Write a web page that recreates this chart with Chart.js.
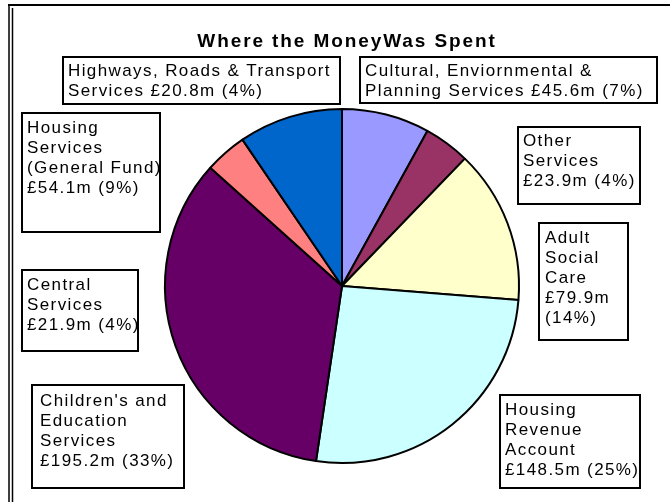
<!DOCTYPE html>
<html>
<head>
<meta charset="utf-8">
<script src="https://cdn.jsdelivr.net/npm/chart.js@4.4.0/dist/chart.umd.min.js"></script>
<style>
    html, body { margin: 0; padding: 0; background: #fff; }
    #wrap { position: relative; width: 670px; height: 502px; }
</style>
</head>
<body>
<div id="wrap"><canvas id="moneyChart" width="670" height="502"></canvas></div>
<script>
// Where the Money Was Spent - pie with boxed callouts
const chartTitle = 'Where the MoneyWas Spent';

const categories = [
    'Cultural, Enviornmental & Planning Services',
    'Other Services',
    'Adult Social Care',
    'Housing Revenue Account',
    "Children's and Education Services",
    'Central Services',
    'Housing Services (General Fund)',
    'Highways, Roads & Transport Services'
];
const amounts = [45.6, 23.9, 79.9, 148.5, 195.2, 21.9, 54.1, 20.8];
const percents = [7, 4, 14, 25, 33, 4, 9, 4];
const sliceColours = ['#9999FF', '#993366', '#FFFFCC', '#CCFFFF', '#660066', '#FF8080', '#0066CC', '#000080'];

// callout text as wrapped in the original; {m} = amount, {p} = percent
const labelLines = [
    ['Cultural, Enviornmental &', 'Planning Services {m} {p}'],
    ['Other', 'Services', '{m} {p}'],
    ['Adult', 'Social', 'Care', '{m}', '{p}'],
    ['Housing', 'Revenue', 'Account', '{m} {p}'],
    ["Children's and", 'Education', 'Services', '{m} {p}'],
    ['Central', 'Services', '{m} {p}'],
    ['Housing', 'Services', '(General Fund)', '{m} {p}'],
    ['Highways, Roads & Transport', 'Services {m} {p}']
];

// the original pie does not draw the Highways slice, only its callout
const hiddenSlices = [7];

// callout boxes: x, y, w, h, text dx, first baseline dy
const boxLayout = [
    [360, 57, 297, 46, 5, 19],
    [518, 127, 122, 77, 5, 19],
    [539, 223, 89, 117, 6, 20],
    [500, 395, 140, 93, 5, 20],
    [32, 385, 152, 103, 8, 21],
    [22, 270, 116, 81, 5, 20],
    [22, 113, 138, 119, 5, 20],
    [63, 57, 277, 47, 5, 19]
];

const FONT = '"Liberation Sans", Arial, sans-serif';

function fillLine(text, i) {
    return text
        .replace('{m}', '\u00a3' + amounts[i].toFixed(1) + 'm')
        .replace('{p}', '(' + percents[i] + '%)');
}

const framePlugin = {
    id: 'frame',
    beforeDraw(chart) {
        const ctx = chart.ctx;
        ctx.save();
        ctx.fillStyle = '#fff';
        ctx.fillRect(0, 0, chart.width, chart.height);
        ctx.strokeStyle = '#000';
        ctx.lineWidth = 2;
        ctx.beginPath();
        ctx.moveTo(8, 5);
        ctx.lineTo(chart.width, 5);
        ctx.stroke();
        ctx.lineWidth = 1.5;
        ctx.beginPath();
        ctx.moveTo(9, 5);
        ctx.lineTo(9, chart.height);
        ctx.moveTo(12.5, 8);
        ctx.lineTo(12.5, chart.height);
        ctx.stroke();
        ctx.restore();
    },
    afterDraw(chart) {
        const ctx = chart.ctx;
        ctx.save();
        ctx.fillStyle = '#000';
        ctx.textBaseline = 'alphabetic';

        ctx.font = 'bold 19px ' + FONT;
        ctx.letterSpacing = '1.9px';
        ctx.textAlign = 'center';
        ctx.fillText(chartTitle, 347, 47);

        ctx.textAlign = 'left';
        ctx.font = '17px ' + FONT;
        ctx.letterSpacing = '1.4px';
        boxLayout.forEach((b, i) => {
            const [x, y, w, h, dx, dy] = b;
            ctx.fillStyle = '#fff';
            ctx.fillRect(x, y, w, h);
            ctx.strokeStyle = '#000';
            ctx.lineWidth = 2;
            ctx.strokeRect(x, y, w, h);
            ctx.fillStyle = '#000';
            labelLines[i].forEach((line, k) => {
                ctx.fillText(fillLine(line, i), x + dx, y + dy + k * 20);
            });
        });
        ctx.restore();
    }
};

const ctx = document.getElementById('moneyChart').getContext('2d');
const moneyChart = new Chart(ctx, {
    type: 'pie',
    data: {
        labels: categories,
        datasets: [{
            data: amounts,
            backgroundColor: sliceColours,
            borderColor: '#000',
            borderWidth: 2
        }]
    },
    options: {
        responsive: false,
        animation: false,
        layout: { padding: { left: 164, right: 150, top: 108, bottom: 38 } },
        plugins: {
            legend: { display: false },
            tooltip: { enabled: false },
            title: { display: false }
        }
    },
    plugins: [framePlugin]
});

hiddenSlices.forEach(i => moneyChart.toggleDataVisibility(i));
moneyChart.update('none');
</script>
</body>
</html>
